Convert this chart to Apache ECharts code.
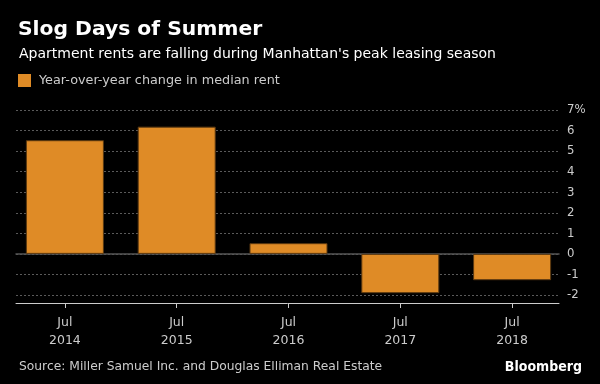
<!DOCTYPE html>
<html>
<head>
<meta charset="utf-8">
<script src="https://cdn.jsdelivr.net/npm/echarts@6/dist/echarts.min.js"></script>
<style>html,body{margin:0;padding:0;background:#000;}#c{width:600px;height:384px;}</style>
</head>
<body>
<div id="c"></div>
<script>
var categories = ['Jul\n2014', 'Jul\n2015', 'Jul\n2016', 'Jul\n2017', 'Jul\n2018'];
var rentChange = [5.53, 6.19, 0.52, -1.91, -1.28];
var seriesName = 'Year-over-year change in median rent';
var yMin = -2, yMax = 7, yStep = 1;

var FONT = '"DejaVu Sans", sans-serif';
var FONTC = '"DejaVu Sans Condensed", "DejaVu Sans", sans-serif';
var chart = echarts.init(document.getElementById('c'), null, {renderer: 'canvas'});
chart.setOption({
  backgroundColor: '#000',
  animation: false,
  textStyle: {fontFamily: FONT},
  title: [
    {text: 'Slog Days of Summer', left: 13, top: 15,
     textStyle: {color: '#fff', fontSize: 20.3, fontWeight: 'bold', fontFamily: FONT}},
    {text: "Apartment rents are falling during Manhattan's peak leasing season", left: 14, top: 42,
     textStyle: {color: '#fff', fontSize: 14, fontWeight: 'normal', fontFamily: FONT}},
    {text: 'Source: Miller Samuel Inc. and Douglas Elliman Real Estate', left: 14, top: 356,
     textStyle: {color: '#ccc', fontSize: 12.3, fontWeight: 'normal', fontFamily: FONT}},
    {text: 'Bloomberg', right: 13, top: 355,
     textStyle: {color: '#fff', fontSize: 14, fontWeight: 'bold', fontFamily: FONTC}}
  ],
  legend: {
    left: 13, top: 69, icon: 'rect', itemWidth: 13, itemHeight: 13, itemGap: 8,
    itemStyle: {borderWidth: 0},
    textStyle: {color: '#ccc', fontSize: 12.8, fontFamily: FONT, padding: [0, 0, 0, 3]},
    data: [seriesName]
  },
  grid: [
    {left: 16, right: 41, top: 110, height: 185},
    {left: 9, right: 32, top: 110, height: 185}
  ],
  xAxis: [
    {gridIndex: 0, type: 'value', min: 0, max: 1,
     axisLine: {show: true, onZero: true, lineStyle: {color: '#555', width: 1.5}},
     axisTick: {show: false}, axisLabel: {show: false}, splitLine: {show: false}},
    {gridIndex: 0, type: 'value', min: 0, max: 1, position: 'bottom', offset: 8,
     axisLine: {show: true, onZero: false, lineStyle: {color: '#ccc', width: 1}},
     axisTick: {show: false}, axisLabel: {show: false}, splitLine: {show: false}},
    {gridIndex: 1, type: 'category', data: categories, position: 'bottom', offset: 8,
     axisLine: {show: false, onZero: false},
     axisTick: {show: true, alignWithLabel: true, length: 5, lineStyle: {color: '#ccc'}},
     axisLabel: {color: '#ccc', fontSize: 12.5, lineHeight: 18, margin: 11, fontFamily: FONT},
     splitLine: {show: false}}
  ],
  yAxis: [
    {gridIndex: 0, type: 'value', position: 'right', min: yMin, max: yMax, interval: yStep,
     axisLine: {show: false}, axisTick: {show: false},
     axisLabel: {color: '#ccc', fontSize: 13, margin: 8, align: 'left', fontFamily: FONTC,
       formatter: function (v) { return v === yMax ? v + '%' : String(v); }},
     splitLine: {show: true, lineStyle: {color: '#5a5a5a', type: [2, 2], width: 1}}},
    {gridIndex: 1, type: 'value', min: yMin, max: yMax, interval: yStep, show: false,
     splitLine: {show: false}}
  ],
  series: [{
    name: seriesName, type: 'bar', xAxisIndex: 2, yAxisIndex: 1,
    data: rentChange, barWidth: 78,
    itemStyle: {color: '#DF8B26', borderColor: '#5a3810', borderWidth: 1}
  }]
});
</script>
</body>
</html>
